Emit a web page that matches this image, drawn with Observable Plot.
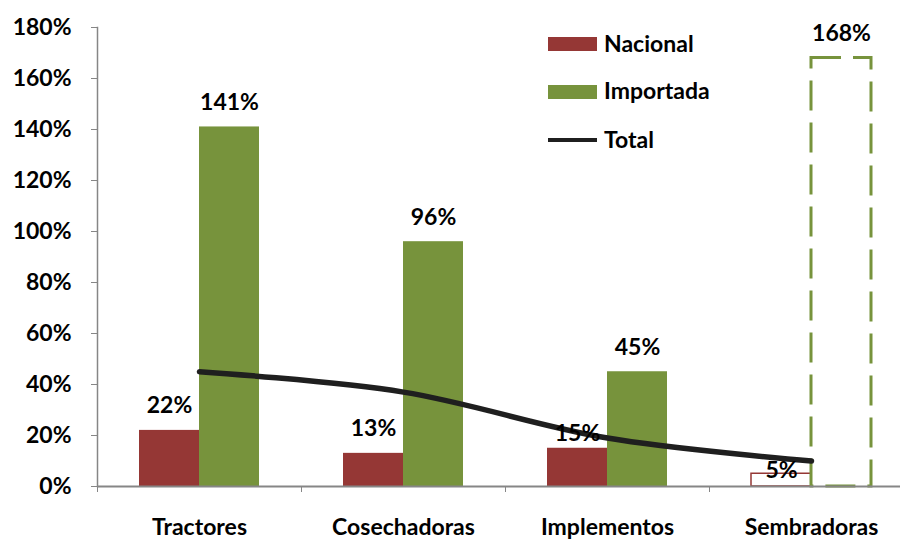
<!DOCTYPE html>
<html><head><meta charset="utf-8">
<script src="https://cdn.jsdelivr.net/npm/d3@7"></script>
<script src="https://cdn.jsdelivr.net/npm/@observablehq/plot@0.6"></script>
<style>
body{margin:0;background:#fff;}
#wrap{position:relative;width:900px;height:541px;font-family:Lato,sans-serif;font-weight:bold;}
.lg{position:absolute;font-size:23px;color:#000;line-height:1;}
.sw{position:absolute;}
</style></head><body><div id="wrap"></div>
<script>
const categories = ["Tractores", "Cosechadoras", "Implementos", "Sembradoras"];
const nacional = [22, 13, 15, 5];
const importada = [141, 96, 45, 168];
const total = [45, 37, 19, 10];
const yTicks = [0, 20, 40, 60, 80, 100, 120, 140, 160, 180];
const seriesNames = ["Nacional", "Importada", "Total"];

const RED = "#953735", GREEN = "#77933C", GREY = "#868686", LINE = "#1f1f1f";
const xRange = [97, 913];
const bw = (xRange[1] - xRange[0]) / categories.length;
const barW = 60;
const gap = bw / 2 - barW;
const off = barW / 2;

const natRows = categories.map((c, i) => ({category: c, value: nacional[i]}));
const impRows = categories.map((c, i) => ({category: c, value: importada[i]}));
const totRows = categories.map((c, i) => ({category: c, value: total[i]}));
const hollow = d => d.category === "Sembradoras";
const solid = d => !hollow(d);
const lowLabel = d => d.category === "Implementos";

const chart = Plot.plot({
  width: 900, height: 541,
  marginTop: 27, marginBottom: 55, marginLeft: 97, marginRight: 0,
  style: {fontFamily: "Lato, sans-serif", fontSize: "23px", fontWeight: "bold", color: "#000", background: "#fff"},
  x: {type: "band", domain: categories, range: xRange, padding: 0},
  y: {domain: [0, 180]},
  marks: [
    Plot.barY(natRows, {filter: solid, x: "category", y: "value", fill: RED, insetLeft: gap, insetRight: bw / 2}),
    Plot.barY(impRows, {filter: solid, x: "category", y: "value", fill: GREEN, insetLeft: bw / 2, insetRight: gap}),
    Plot.barY(natRows, {filter: hollow, x: "category", y: "value", fill: "none", stroke: RED, strokeWidth: 1.5, insetLeft: gap, insetRight: bw / 2}),
    Plot.barY(impRows, {filter: hollow, x: "category", y: "value", fill: "none", stroke: GREEN, strokeWidth: 3, strokeDasharray: "30,12", insetLeft: bw / 2, insetRight: gap}),
    Plot.ruleY([0], {stroke: GREY, strokeWidth: 2}),
    Plot.frame({anchor: "left", stroke: GREY, strokeWidth: 1.5}),
    Plot.axisY({ticks: yTicks, tickFormat: d => d + "%", tickSize: 6, tickPadding: 20, stroke: GREY, label: null}),
    Plot.axisX({tickSize: 6, tickFormat: () => "", dx: -bw / 2, stroke: GREY, label: null}),
    Plot.axisX({tickSize: 0, tickPadding: 32, label: null}),
    Plot.line(totRows, {x: "category", y: "value", stroke: LINE, strokeWidth: 5.5, curve: "catmull-rom"}),
    Plot.text(natRows, {filter: d => solid(d) && !lowLabel(d), x: "category", y: "value", text: d => d.value + "%", dx: -off, lineAnchor: "bottom", dy: -17}),
    Plot.text(natRows, {filter: lowLabel, x: "category", y: "value", text: d => d.value + "%", dx: -off, lineAnchor: "bottom", dy: -7}),
    Plot.text(natRows, {filter: hollow, x: "category", y: "value", text: d => d.value + "%", dx: -off, lineAnchor: "bottom", dy: 4}),
    Plot.text(impRows, {x: "category", y: "value", text: d => d.value + "%", dx: off, lineAnchor: "bottom", dy: -17})
  ]
});
const wrap = document.getElementById("wrap");
wrap.appendChild(chart);

const legendItems = [
  {name: seriesNames[0], kind: "box", color: RED, top: 37, ty: 44},
  {name: seriesNames[1], kind: "box", color: GREEN, top: 85, ty: 91},
  {name: seriesNames[2], kind: "line", color: LINE, top: 138, ty: 140}
];
for (const it of legendItems) {
  const sw = document.createElement("div");
  sw.className = "sw";
  sw.style.left = "548px";
  sw.style.width = "49px";
  sw.style.top = it.top + "px";
  sw.style.height = it.kind === "box" ? "14px" : "4px";
  sw.style.background = it.color;
  wrap.appendChild(sw);
  const t = document.createElement("div");
  t.className = "lg";
  t.textContent = it.name;
  t.style.left = "604px";
  t.style.top = (it.ty - 12) + "px";
  wrap.appendChild(t);
}
</script></body></html>
